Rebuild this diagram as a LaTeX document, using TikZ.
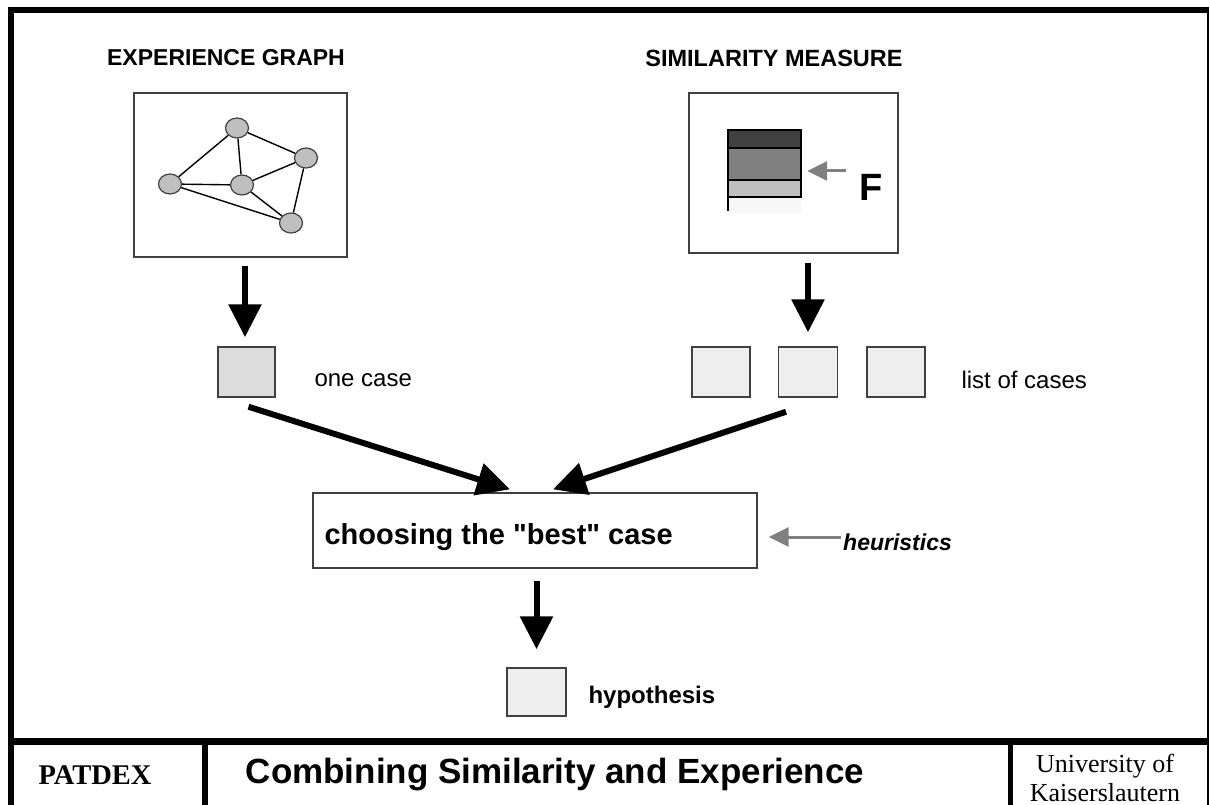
\documentclass[tikz,border=0pt]{standalone}
\usepackage{fontspec}
\setmainfont{Liberation Serif}
\setsansfont{Liberation Sans}[Ligatures=TeXOff]
\usetikzlibrary{arrows.meta,shapes.geometric}

\definecolor{caseA}{HTML}{DCDCDC}
\definecolor{caseB}{HTML}{EEEEEE}
\definecolor{edgegray}{HTML}{404040}

\tikzset{
	panel/.style={draw=edgegray,line width=1.3pt,minimum width=#1},
	casebox/.style={draw=edgegray,line width=1.5pt,inner sep=0pt},
	gnode/.style={ellipse,draw=edgegray,fill=black!25,line width=1.2pt,
		minimum width=23pt,minimum height=20pt,inner sep=0pt},
	bigarrow/.style={line width=6pt,-{Triangle[length=33pt,width=32pt]}},
	grayarrow/.style={draw=black!50,line width=3pt,-{Triangle[length=20pt,width=19pt]}},
	head/.style={font=\sffamily\bfseries\fontsize{23}{26}\selectfont},
	label/.style={font=\sffamily\fontsize{24}{28}\selectfont,anchor=west}
}

\begin{document}
\begin{tikzpicture}[x=1pt,y=-1pt]
	\useasboundingbox (0,0) rectangle (1210,805);

	% frame
	\draw[line width=6pt] (11,7) -- (11,812);
	\draw[line width=6pt] (8,10) -- (1209,10);
	\draw[line width=2pt] (1208,10) -- (1208,812);
	\draw[line width=7pt] (8,741.5) -- (1209,741.5);
	\draw[line width=6pt] (205,741) -- (205,812);
	\draw[line width=5pt] (1010.5,741) -- (1010.5,812);

	% headings
	\node[head] (hgraph) at (226,58) {EXPERIENCE GRAPH};
	\node[head,font=\sffamily\bfseries\fontsize{23.5}{26}\selectfont] (hsim) at (774,58) {SIMILARITY MEASURE};

	% experience graph
	\node[panel=213pt,minimum height=164pt] (graph) at (240.5,175) {};
	\node[gnode] (g1) at (237,128) {};
	\node[gnode] (g2) at (306,158) {};
	\node[gnode] (g3) at (170,184) {};
	\node[gnode] (g4) at (242,185) {};
	\node[gnode] (g5) at (291,223) {};
	\foreach \a/\b in {g1/g3,g1/g4,g1/g2,g3/g4,g4/g2,g4/g5,g3/g5,g2/g5}
		\draw[line width=1.4pt] (\a) -- (\b);

	% similarity measure
	\node[panel=209pt,minimum height=160pt] (sim) at (793.5,173) {};
	\fill[black!75] (728,130) rectangle (801,148);
	\node[fill=black!50,minimum width=73pt,minimum height=32pt,inner sep=0pt] (band) at (764.5,164) {};
	\fill[black!25] (728,180) rectangle (801,197);
	\fill[black!3] (728,197) rectangle (801,213);
	\draw[line width=1.3pt] (728,211) -- (728,130) -- (801,130) -- (801,197) -- (728,197);
	\draw[line width=1.3pt] (728,148) -- (801,148) (728,180) -- (801,180);
	\node[font=\sffamily\bfseries\fontsize{38}{40}\selectfont,anchor=west,inner sep=0pt] (F) at (859,187) {F};
	\draw[grayarrow] ([xshift=-13pt,yshift=16pt]F.west) -- ([xshift=6pt,yshift=-7pt]band.east);

	% cases
	\node[casebox,fill=caseA,minimum width=57pt,minimum height=50pt] (one) at (246.5,372) {};
	\node[label] (lone) at (311,380) {one case};
	\node[casebox,fill=caseB,minimum width=58pt,minimum height=50pt] (l1) at (721,372) {};
	\node[casebox,fill=caseB,minimum width=59pt,minimum height=50pt] (l2) at (808,372) {};
	\node[casebox,fill=caseB,minimum width=58pt,minimum height=50pt] (l3) at (896,372) {};
	\node[label] (llist) at (958,380) {list of cases};

	% choosing
	\node[panel=444pt,minimum height=75pt] (choose) at (535,530.5) {};
	\node[font=\sffamily\bfseries\fontsize{29}{32}\selectfont,anchor=west] (ctext) at (321,537) {choosing the "best" case};
	\node[font=\sffamily\bfseries\itshape\fontsize{23}{26}\selectfont,anchor=west,inner sep=2pt] (heur) at (841,542) {heuristics};

	% hypothesis
	\node[casebox,fill=caseB,minimum width=59pt,minimum height=48pt] (hyp) at (536.5,692) {};
	\node[font=\sffamily\bfseries\fontsize{24}{26}\selectfont,anchor=west] (lhyp) at (585,697) {hypothesis};

	% arrows
	\draw[bigarrow,shorten <=8pt,shorten >=9pt] (graph.south -| 245,0) -- (one.north -| 245,0);
	\draw[bigarrow,shorten <=9pt,shorten >=14pt] (sim.south -| l2.north) -- (l2.north);
	\draw[bigarrow] ([xshift=2pt,yshift=-9pt]one.south) -- ([xshift=-25pt,yshift=3pt]choose.north);
	\draw[bigarrow] ([xshift=-22pt,yshift=-14pt]l2.south) -- ([xshift=18pt,yshift=3pt]choose.north);
	\draw[bigarrow,shorten <=12pt,shorten >=18pt] (choose.south -| hyp.north) -- (hyp.north);
	\draw[grayarrow] (heur.west |- 0,537) -- ([xshift=11pt]choose.east |- 0,537);

	% footer
	\node[font=\rmfamily\bfseries\fontsize{28.5}{30}\selectfont] (patdex) at (95,775) {PATDEX};
	\node[font=\sffamily\bfseries\fontsize{35}{38}\selectfont] (title) at (555,775) {Combining Similarity and Experience};
	\node[font=\rmfamily\fontsize{26}{29}\selectfont,align=center] (uni) at (1105,778) {University of\\Kaiserslautern};
\end{tikzpicture}
\end{document}
